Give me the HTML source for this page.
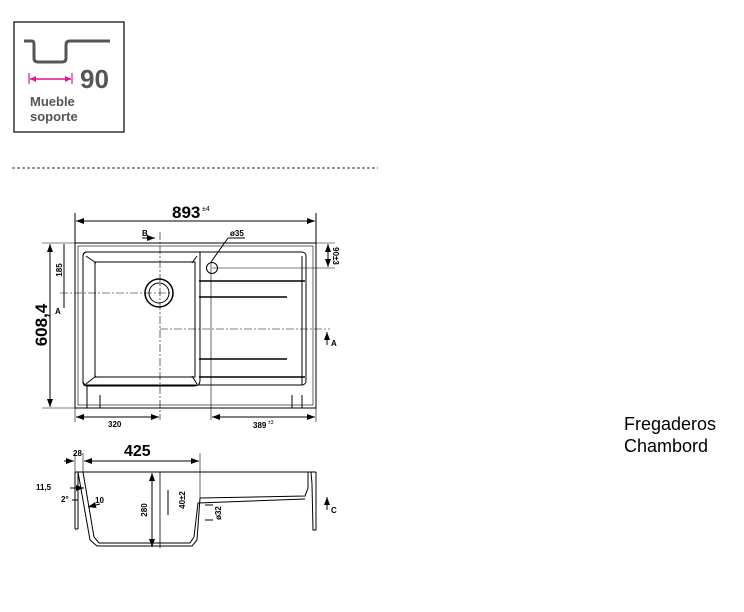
<!DOCTYPE html>
<html><head><meta charset="utf-8"><style>
html,body{margin:0;padding:0;background:#fff;width:744px;height:612px;overflow:hidden}
svg{position:absolute;left:0;top:0}
text{font-family:"Liberation Sans",sans-serif}
</style></head><body>
<svg width="744" height="612" viewBox="0 0 744 612">
<defs>
<marker id="ar" markerWidth="8" markerHeight="6" refX="8" refY="3" orient="auto" markerUnits="userSpaceOnUse"><path d="M0,0 L8,3 L0,6z" fill="#000"/></marker>
<marker id="al" markerWidth="8" markerHeight="6" refX="0" refY="3" orient="auto" markerUnits="userSpaceOnUse"><path d="M8,0 L0,3 L8,6z" fill="#000"/></marker>
<marker id="pr" markerWidth="6" markerHeight="6" refX="6" refY="3" orient="auto" markerUnits="userSpaceOnUse"><path d="M0,0 L6,3 L0,6z" fill="#e0148c"/></marker>
<marker id="pl" markerWidth="6" markerHeight="6" refX="0" refY="3" orient="auto" markerUnits="userSpaceOnUse"><path d="M6,0 L0,3 L6,6z" fill="#e0148c"/></marker>
</defs>
<!-- icon box -->
<rect x="14" y="22" width="110" height="110" fill="none" stroke="#333" stroke-width="1.5"/>
<path d="M24,41 H32 Q34,41 34,45 V58 Q34,62 38,62 H62 Q66,62 66,58 V45 Q66,41 70,41 H110" fill="none" stroke="#555" stroke-width="3"/>
<line x1="29" y1="73" x2="29" y2="84" stroke="#e0148c" stroke-width="1.2"/>
<line x1="72" y1="73" x2="72" y2="84" stroke="#e0148c" stroke-width="1.2"/>
<line x1="30" y1="79" x2="71" y2="79" stroke="#e0148c" stroke-width="1.5" marker-start="url(#pl)" marker-end="url(#pr)"/>
<text x="80" y="88" font-size="26" font-weight="bold" fill="#555">90</text>
<text x="30" y="106" font-size="13" font-weight="bold" fill="#555">Mueble</text>
<text x="30" y="121" font-size="13" font-weight="bold" fill="#555">soporte</text>
<line x1="12" y1="168" x2="378" y2="168" stroke="#333" stroke-dasharray="3,2"/>
<!-- top view -->
<g stroke="#000" fill="none" stroke-width="1">
<line x1="75" y1="213" x2="75" y2="243"/><line x1="316" y1="213" x2="316" y2="243"/>
<line x1="76" y1="221" x2="315" y2="221" marker-start="url(#al)" marker-end="url(#ar)"/>
<rect x="75" y="243" width="241" height="165"/>
<rect x="78" y="246" width="235" height="159" stroke-width="0.6"/>
<rect x="83" y="252" width="223" height="133" rx="4"/>
<path d="M83,256 Q83,252 87,252 H200 V380 Q200,386 194,386 H87 Q83,386 83,382Z"/>
<rect x="95" y="262" width="100" height="115"/>
<line x1="86" y1="256" x2="96" y2="263"/><line x1="197" y1="256" x2="192" y2="263"/>
<line x1="86" y1="384" x2="96" y2="376"/><line x1="197" y1="384" x2="192" y2="376"/>
<circle cx="159" cy="293" r="14" stroke-width="1.5"/><circle cx="159" cy="293" r="10"/>
<circle cx="212" cy="268" r="5.5"/>
<line x1="211" y1="262" x2="228" y2="238"/><line x1="228" y1="238" x2="245" y2="238"/>
<line x1="212" y1="268" x2="335" y2="268" stroke-width="0.6"/>
<line x1="199" y1="281" x2="305" y2="281" stroke-width="1.5"/>
<line x1="199" y1="297" x2="287" y2="297" stroke-width="1.5"/>
<line x1="199" y1="359" x2="287" y2="359" stroke-width="1.5"/>
<line x1="199" y1="377" x2="305" y2="377" stroke-width="1.5"/>
<line x1="302" y1="256" x2="302" y2="385"/>
<line x1="87" y1="386" x2="87" y2="408"/><line x1="100" y1="395" x2="100" y2="408"/>
<line x1="292" y1="395" x2="292" y2="408"/><line x1="302" y1="395" x2="302" y2="408"/>
<line x1="160" y1="232" x2="160" y2="420" stroke-dasharray="8,2,2,2" stroke-width="0.6"/>
<line x1="60" y1="293" x2="172" y2="293" stroke-dasharray="8,2,2,2" stroke-width="0.6"/>
<line x1="160" y1="329" x2="330" y2="329" stroke-dasharray="8,2,2,2" stroke-width="0.6"/>
<line x1="211" y1="262" x2="211" y2="420" stroke-width="0.6"/>
<line x1="42" y1="243" x2="75" y2="243" stroke-width="0.6"/><line x1="42" y1="408" x2="75" y2="408" stroke-width="0.6"/>
<line x1="50" y1="244" x2="50" y2="407" marker-start="url(#al)" marker-end="url(#ar)"/>
<line x1="64" y1="244" x2="64" y2="292"/>
<line x1="64" y1="292" x2="64" y2="308"/>
<line x1="316" y1="243" x2="335" y2="243" stroke-width="0.6"/>
<line x1="328" y1="244" x2="328" y2="267" marker-start="url(#al)" marker-end="url(#ar)"/>
<line x1="75" y1="408" x2="75" y2="422" stroke-width="0.6"/><line x1="316" y1="408" x2="316" y2="422" stroke-width="0.6"/>
<line x1="76" y1="417" x2="159" y2="417" marker-start="url(#al)" marker-end="url(#ar)"/>
<line x1="212" y1="417" x2="315" y2="417" marker-start="url(#al)" marker-end="url(#ar)"/>
<line x1="142" y1="238" x2="155" y2="238" marker-end="url(#ar)"/>
<line x1="327" y1="345" x2="327" y2="332" marker-end="url(#ar)"/>
</g>
<text x="172" y="218" font-size="17" font-weight="bold">893</text><text x="202" y="211" font-size="7">±4</text>
<text x="142" y="236" font-size="8" font-weight="bold">B</text>
<text x="230" y="236" font-size="8" font-weight="bold">ø35</text>
<text x="47" y="325" font-size="17" font-weight="bold" transform="rotate(-90 47 325)" text-anchor="middle">608,4</text>
<text x="62" y="270" font-size="8" font-weight="bold" transform="rotate(-90 62 270)" text-anchor="middle">185</text>
<text x="55" y="314" font-size="8" font-weight="bold">A</text>
<text x="331" y="346" font-size="8" font-weight="bold">A</text>
<text x="333" y="256" font-size="8" font-weight="bold" transform="rotate(90 333 256)" text-anchor="middle">90±3</text>
<text x="108" y="427" font-size="8" font-weight="bold">320</text>
<text x="253" y="428" font-size="8" font-weight="bold">389</text><text x="268" y="424" font-size="5">±3</text>
<!-- section -->
<g stroke="#000" fill="none" stroke-width="1">
<line x1="75" y1="453" x2="75" y2="472" stroke-width="0.6"/><line x1="83" y1="453" x2="83" y2="472" stroke-width="0.6"/><line x1="200" y1="453" x2="200" y2="498" stroke-width="0.6"/>
<line x1="64" y1="461" x2="74" y2="461" marker-end="url(#ar)"/>
<line x1="84" y1="461" x2="199" y2="461" marker-start="url(#al)" marker-end="url(#ar)"/>
<line x1="75" y1="472" x2="316" y2="472"/>
<path d="M75,472 V529 M78,472 V529 M75,529 H78"/>
<path d="M78,472 L90,540 L97,546 L192,546 L197,540 L200,498 L305,496 L308,488 L308,472"/>
<path d="M83,472 L94,537 L99,543 L190,543 L194,537 L198,503 L305,499"/>
<path d="M311,472 L312,484 L313,530 L316,530 L316,472"/>
<line x1="160" y1="472" x2="160" y2="548" stroke-width="0.8"/>
<line x1="152" y1="473" x2="152" y2="547" marker-start="url(#al)" marker-end="url(#ar)"/>
<line x1="168" y1="490" x2="168" y2="515"/>
<line x1="205" y1="505" x2="213" y2="505"/><line x1="205" y1="520" x2="213" y2="520"/>
<line x1="70" y1="488" x2="84" y2="488" marker-end="url(#ar)"/>
<line x1="72" y1="500" x2="78" y2="500"/>
<line x1="100" y1="504" x2="88" y2="507" marker-end="url(#ar)"/>
<line x1="327" y1="510" x2="327" y2="497" marker-end="url(#ar)"/>
</g>
<text x="73" y="456" font-size="8" font-weight="bold">28</text>
<text x="124" y="456" font-size="16" font-weight="bold">425</text>
<text x="36" y="490" font-size="8" font-weight="bold">11,5</text>
<text x="61" y="502" font-size="8" font-weight="bold">2°</text>
<text x="95" y="503" font-size="8" font-weight="bold">10</text>
<text x="147" y="510" font-size="8" font-weight="bold" transform="rotate(-90 147 510)" text-anchor="middle">280</text>
<text x="185" y="500" font-size="8" font-weight="bold" transform="rotate(-90 185 500)" text-anchor="middle">40±2</text>
<text x="221" y="513" font-size="8" font-weight="bold" transform="rotate(-90 221 513)" text-anchor="middle">ø32</text>
<text x="331" y="513" font-size="8" font-weight="bold">C</text>
<text x="624" y="430" font-size="18">Fregaderos</text>
<text x="624" y="452" font-size="18">Chambord</text>
</svg>
</body></html>
